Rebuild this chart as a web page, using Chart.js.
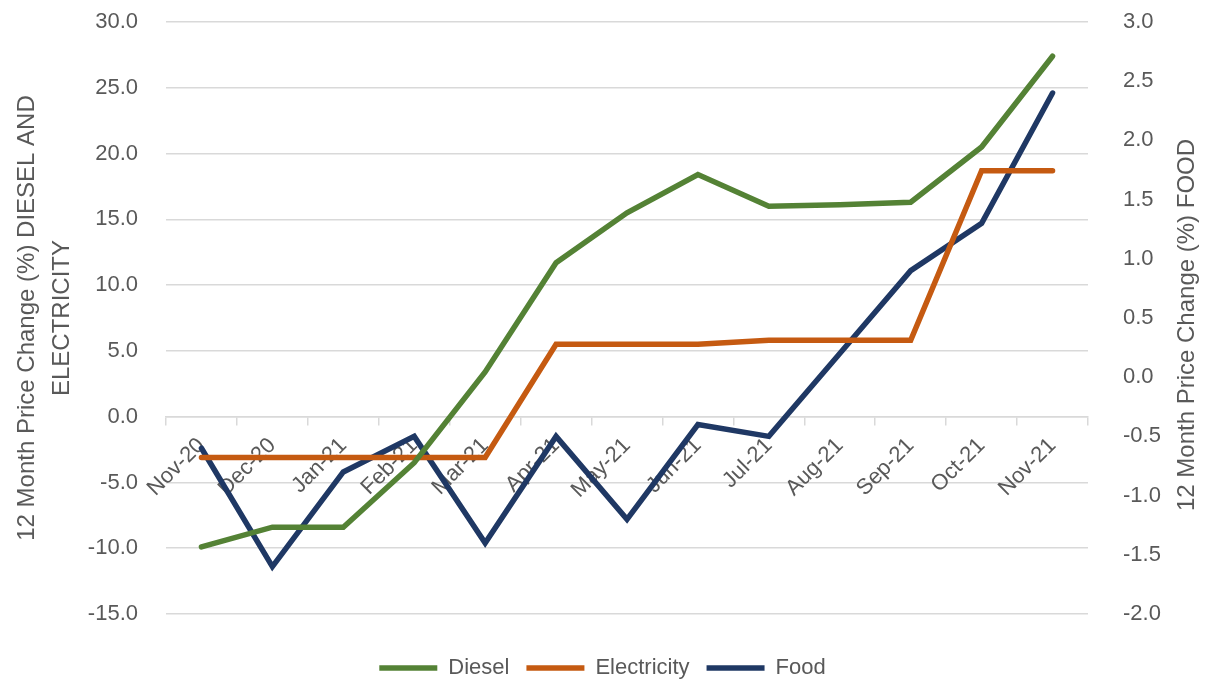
<!DOCTYPE html>
<html>
<head>
<meta charset="utf-8">
<script src="https://cdn.jsdelivr.net/npm/chart.js@4.4.0/dist/chart.umd.min.js"></script>
<style>
html,body{margin:0;padding:0;background:#fff;}
#wrap{width:1205px;height:684px;position:relative;}
</style>
</head>
<body>
<div id="wrap"><canvas id="c" width="1205" height="684"></canvas></div>
<script>
const categories = ['Nov-20','Dec-20','Jan-21','Feb-21','Mar-21','Apr-21','May-21','Jun-21','Jul-21','Aug-21','Sep-21','Oct-21','Nov-21'];
const diesel = [-9.9, -8.4, -8.4, -3.5, 3.4, 11.7, 15.5, 18.4, 16.0, 16.1, 16.3, 20.5, 27.4];
const electricity = [-3.1, -3.1, -3.1, -3.1, -3.1, 5.5, 5.5, 5.5, 5.8, 5.8, 5.8, 18.7, 18.7];
const food = [-0.6, -1.6, -0.8, -0.5, -1.4, -0.5, -1.2, -0.4, -0.5, 0.2, 0.9, 1.3, 2.4];
const leftTitle = ['12 Month Price Change (%) DIESEL AND', 'ELECTRICITY'];
const rightTitle = '12 Month Price Change (%) FOOD';

const FONT = "'Liberation Sans', Arial, sans-serif";
const TXT = '#595959';
const GRID = '#d9d9d9';

const rightTitlePlugin = {
  id: 'rightTitle',
  afterDraw(chart) {
    const ctx = chart.ctx;
    const a = chart.chartArea;
    ctx.save();
    ctx.translate(1187, (a.top + a.bottom) / 2 + 7);
    ctx.rotate(-Math.PI / 2);
    ctx.fillStyle = TXT;
    ctx.font = "24px " + FONT;
    ctx.textAlign = 'center';
    ctx.textBaseline = 'middle';
    ctx.fillText(rightTitle, 0, 0);
    ctx.restore();
  }
};

const legendPlacePlugin = {
  id: 'legendPlace',
  beforeLayout(chart) {
    const lg = chart.legend;
    if (lg && !lg._fitPatched) {
      const orig = lg.fit;
      lg.fit = function () { orig.call(this); this.height = 70; };
      lg._fitPatched = true;
    }
  },
  afterLayout(chart) {
    const lg = chart.legend;
    if (lg) { lg.top += 26; lg.bottom += 26; }
  }
};

new Chart(document.getElementById('c'), {
  type: 'line',
  data: {
    labels: categories,
    datasets: [
      {label: 'Diesel', data: diesel, yAxisID: 'y', borderColor: '#548235', backgroundColor: '#548235', borderWidth: 5.5, pointRadius: 0, tension: 0, borderCapStyle: 'round', borderJoinStyle: 'miter'},
      {label: 'Electricity', data: electricity, yAxisID: 'y', borderColor: '#C55A11', backgroundColor: '#C55A11', borderWidth: 5.5, pointRadius: 0, tension: 0, borderCapStyle: 'round', borderJoinStyle: 'miter'},
      {label: 'Food', data: food, yAxisID: 'y1', borderColor: '#1F3864', backgroundColor: '#1F3864', borderWidth: 5.5, pointRadius: 0, tension: 0, borderCapStyle: 'round', borderJoinStyle: 'miter'}
    ]
  },
  options: {
    responsive: false,
    animation: false,
    layout: {padding: {top: 0, bottom: 0, left: 0, right: 0}},
    plugins: {
      legend: {
        position: 'bottom',
        labels: {
          usePointStyle: true,
          pointStyle: 'line',
          pointStyleWidth: 58,
          color: TXT,
          font: {family: FONT, size: 22},
          padding: 17
        }
      },
      tooltip: {enabled: false}
    },
    scales: {
      x: {
        position: {y: 0},
        offset: true,
        grid: {drawOnChartArea: false, drawTicks: true, tickLength: 8, offset: true, color: GRID, lineWidth: 1.5},
        border: {display: true, color: GRID, width: 1.5},
        ticks: {color: TXT, font: {family: FONT, size: 22}, minRotation: 45, maxRotation: 45, padding: 8, autoSkip: false}
      },
      y: {
        position: 'left',
        min: -15, max: 30,
        ticks: {stepSize: 5, color: TXT, font: {family: FONT, size: 22}, padding: 28, callback: v => v.toFixed(1)},
        grid: {color: GRID, lineWidth: 1.5, drawTicks: false},
        border: {display: false},
        title: {display: true, text: leftTitle, color: TXT, font: {family: FONT, size: 24, lineHeight: 1.45}, padding: {top: 10, bottom: 0}},
        afterFit(s) { s.width = 166; s.paddingTop = 22; s.paddingBottom = 0; }
      },
      y1: {
        position: 'right',
        min: -2, max: 3,
        ticks: {stepSize: 0.5, color: TXT, font: {family: FONT, size: 22}, padding: 27, callback: v => v.toFixed(1)},
        grid: {display: false, drawOnChartArea: false},
        border: {display: false},
        afterFit(s) { s.width = 117; s.paddingTop = 22; s.paddingBottom = 0; }
      }
    }
  },
  plugins: [rightTitlePlugin, legendPlacePlugin]
});
</script>
</body>
</html>
